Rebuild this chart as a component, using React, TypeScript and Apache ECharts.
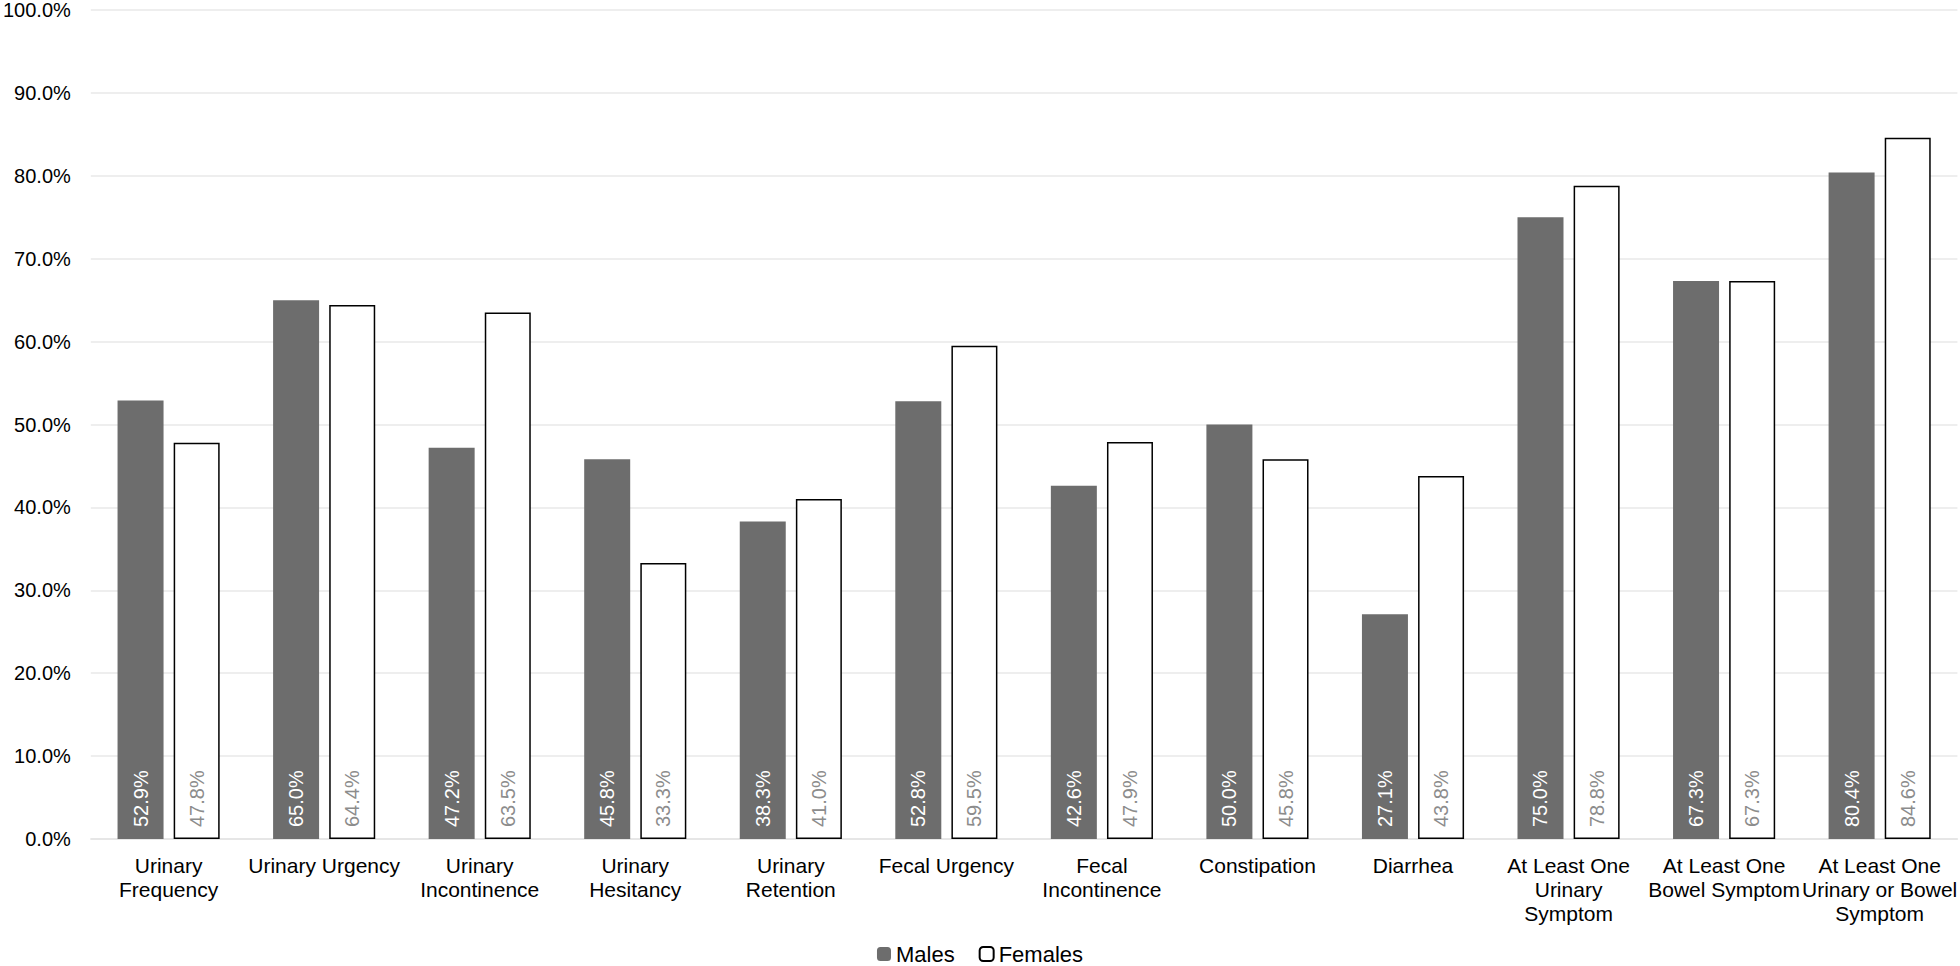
import React, { useEffect, useRef } from "react";
import * as echarts from "echarts";

const categories = [
  "Urinary\nFrequency",
  "Urinary Urgency",
  "Urinary\nIncontinence",
  "Urinary\nHesitancy",
  "Urinary\nRetention",
  "Fecal Urgency",
  "Fecal\nIncontinence",
  "Constipation",
  "Diarrhea",
  "At Least One\nUrinary\nSymptom",
  "At Least One\nBowel Symptom",
  "At Least One\nUrinary or Bowel\nSymptom",
];
const males = [52.9, 65.0, 47.2, 45.8, 38.3, 52.8, 42.6, 50.0, 27.1, 75.0, 67.3, 80.4];
const females = [47.8, 64.4, 63.5, 33.3, 41.0, 59.5, 47.9, 45.8, 43.8, 78.8, 67.3, 84.6];

const FONT = "'Liberation Sans', Arial, sans-serif";

export default function App() {
  const ref = useRef<HTMLDivElement>(null);
  useEffect(() => {
    if (!ref.current) return;
    const chart = echarts.init(ref.current, null, { renderer: "svg" });
    const labelBase = {
      show: true,
      position: "insideBottom",
      distance: 12,
      rotate: 90,
      align: "left",
      verticalAlign: "middle",
      fontSize: 20,
      fontFamily: FONT,
      formatter: (p: any) => p.value.toFixed(1) + "%",
    };
    chart.setOption({
      animation: false,
      textStyle: { fontFamily: FONT },
      grid: { left: 87, right: 0, top: 10, bottom: 127, containLabel: false },
      legend: {
        data: ["Males", "Females"],
        top: 943,
        left: "center",
        padding: 0,
        itemWidth: 14,
        itemHeight: 14,
        itemGap: 24,
        textStyle: { fontSize: 22, color: "#000", fontFamily: FONT },
      },
      xAxis: {
        type: "category",
        data: categories,
        axisLine: { show: true, lineStyle: { color: "#e3e3e3", width: 1.5 } },
        axisTick: { show: false },
        axisLabel: {
          interval: 0,
          fontSize: 21,
          lineHeight: 24,
          color: "#000",
          margin: 14,
          fontFamily: FONT,
        },
      },
      yAxis: {
        type: "value",
        min: 0,
        max: 100,
        interval: 10,
        axisLabel: {
          fontSize: 20,
          color: "#000",
          margin: 20,
          fontFamily: FONT,
          formatter: (v: number) => v.toFixed(1) + "%",
        },
        splitLine: { lineStyle: { color: "#e8e8e8", width: 1.5 } },
        axisLine: { show: false },
        axisTick: { show: false },
      },
      series: [
        {
          name: "Males",
          type: "bar",
          data: males,
          barWidth: 46,
          barGap: "22%",
          itemStyle: { color: "#6d6d6d" },
          label: { ...labelBase, color: "#ffffff" },
        },
        {
          name: "Females",
          type: "bar",
          data: females,
          barWidth: 46,
          itemStyle: { color: "#ffffff", borderColor: "#000000", borderWidth: 1.5 },
          label: { ...labelBase, color: "#8c8c8c" },
        },
      ],
    });
    return () => chart.dispose();
  }, []);
  return (
    <div
      ref={ref}
      style={{ position: "fixed", left: 0, top: 0, width: 1960, height: 966, background: "#fff" }}
    />
  );
}
